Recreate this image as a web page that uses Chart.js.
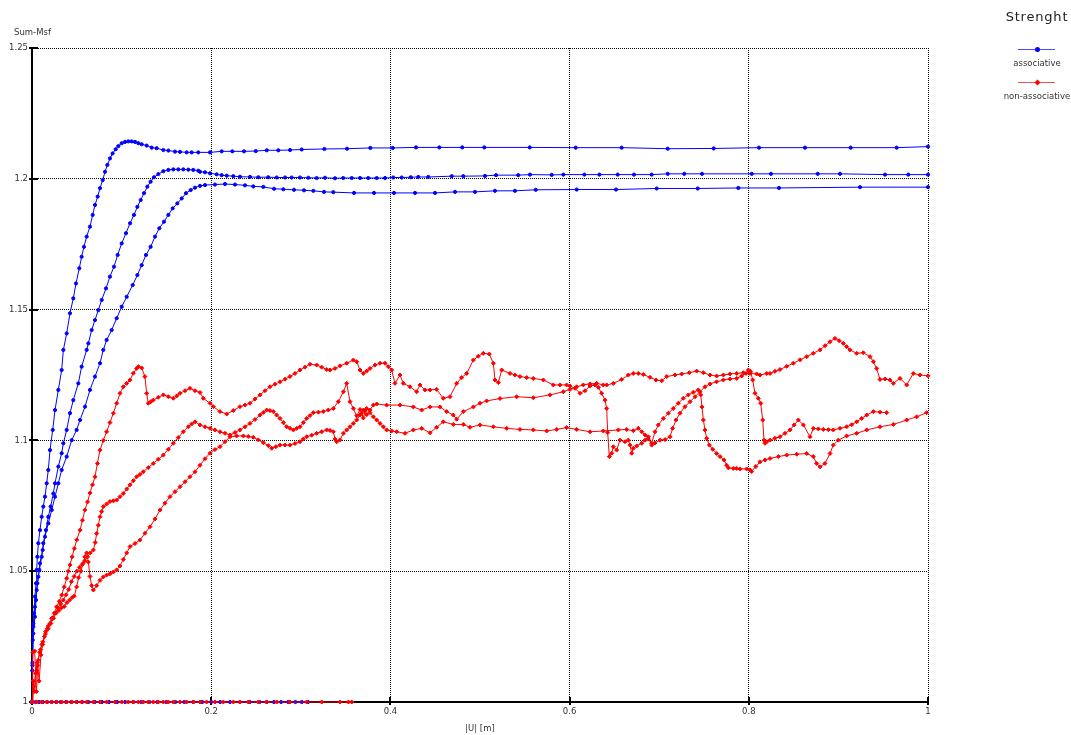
<!DOCTYPE html>
<html>
<head>
<meta charset="utf-8">
<title>Strenght</title>
<script src="https://cdn.jsdelivr.net/npm/chart.js@4.4.1/dist/chart.umd.min.js"></script>
<style>
  body { margin: 0; background: #fff; }
  #wrap { position: relative; width: 1071px; height: 735px; font-family: 'DejaVu Sans', sans-serif; }
  #legend { position: absolute; left: 1000px; top: 0; width: 74px; height: 120px; color: #333; }
  #legend .ttl { position: absolute; left: 0; top: 9px; width: 74px; text-align: center; font-size: 13px; letter-spacing: 0.8px; color: #222; }
  #legend .sample { position: absolute; left: 18px; width: 37px; height: 1px; opacity: 0.7; }
  #legend .mark { position: absolute; width: 5px; height: 5px; left: 34.5px; }
  #legend .lbl { position: absolute; left: -4px; width: 82px; text-align: center; font-size: 8.5px; line-height: 10px; }
</style>
</head>
<body>
<div id="wrap">
  <canvas id="chart" width="1071" height="735"></canvas>
  <div id="legend"><div class="ttl">Strenght</div></div>
</div>
<script>
// axis ticks
const xTickValues = [0, 0.2, 0.4, 0.6, 0.8, 1];
const xTickLabels = ['0', '0.2', '0.4', '0.6', '0.8', '1'];
const yTickValues = [1, 1.05, 1.1, 1.15, 1.2, 1.25];
const yTickLabels = ['1', '1.05', '1.1', '1.15', '1.2', '1.25'];

const seriesNames = ['associative', 'non-associative'];

// associative runs, [|U|, Sum-Msf]
const assocA = [[0,1.0],[0.0003,1.012],[0.0008,1.0237],[0.0015,1.0288],[0.0022,1.0339],[0.0033,1.0403],[0.0045,1.0454],[0.0052,1.0505],[0.006,1.0555],[0.0071,1.0607],[0.0089,1.0657],[0.0108,1.0708],[0.0126,1.0747],[0.0145,1.0785],[0.0164,1.0836],[0.0182,1.0887],[0.0201,1.0963],[0.0231,1.104],[0.0257,1.1116],[0.0294,1.1193],[0.0331,1.1269],[0.035,1.1346],[0.0387,1.1409],[0.0424,1.1486],[0.0461,1.1543],[0.0491,1.16],[0.0528,1.1658],[0.0554,1.1702],[0.058,1.174],[0.061,1.1779],[0.0647,1.1817],[0.0677,1.1862],[0.0703,1.19],[0.0733,1.1932],[0.0759,1.1964],[0.0789,1.1995],[0.0815,1.2027],[0.0841,1.2053],[0.087,1.2078],[0.09,1.2097],[0.0934,1.2113],[0.0964,1.2125],[0.1001,1.2136],[0.1038,1.2141],[0.1075,1.2143],[0.1112,1.2143],[0.115,1.2141],[0.1187,1.2136],[0.1224,1.2132],[0.128,1.2127],[0.1336,1.2119],[0.1391,1.2117],[0.1466,1.211],[0.1522,1.2108],[0.1596,1.2104],[0.1652,1.2103],[0.1726,1.2101],[0.1782,1.2101],[0.1856,1.2101],[0.1987,1.2101],[0.2117,1.2105],[0.2236,1.2105],[0.2366,1.2105],[0.2497,1.2106],[0.262,1.2109],[0.2749,1.2109],[0.288,1.211],[0.301,1.2112],[0.3263,1.2114],[0.3516,1.2115],[0.3776,1.2118],[0.4026,1.2118],[0.4286,1.212],[0.4546,1.212],[0.4802,1.212],[0.5048,1.212],[0.5555,1.212],[0.6068,1.2119],[0.6581,1.2119],[0.7095,1.2115],[0.7608,1.2116],[0.8114,1.2119],[0.8627,1.2119],[0.9137,1.2119],[0.965,1.2119],[1.0,1.2123]];

const assocB = [[0,1.0],[0.0005,1.014],[0.0015,1.0262],[0.0033,1.0326],[0.0045,1.039],[0.006,1.0454],[0.0082,1.0505],[0.0108,1.0555],[0.0126,1.0607],[0.0156,1.0657],[0.0182,1.0708],[0.0208,1.0747],[0.0238,1.0797],[0.0257,1.0836],[0.0294,1.09],[0.0331,1.0951],[0.035,1.0989],[0.0387,1.104],[0.0424,1.1104],[0.0461,1.1154],[0.0517,1.1218],[0.0554,1.1282],[0.061,1.1346],[0.0629,1.1371],[0.0666,1.1422],[0.0703,1.146],[0.074,1.1498],[0.0778,1.1537],[0.0826,1.1581],[0.087,1.1626],[0.0915,1.1664],[0.0956,1.1709],[0.1001,1.1753],[0.1049,1.1792],[0.1094,1.183],[0.1138,1.1862],[0.1176,1.1893],[0.1213,1.1919],[0.125,1.1945],[0.1287,1.197],[0.1324,1.1989],[0.1362,1.2006],[0.141,1.2018],[0.1466,1.2029],[0.1522,1.2034],[0.1577,1.2036],[0.1633,1.2036],[0.1689,1.2036],[0.1745,1.2035],[0.18,1.2034],[0.1856,1.2031],[0.1875,1.2027],[0.1931,1.2025],[0.1987,1.2021],[0.2061,1.2017],[0.2117,1.2014],[0.2173,1.2012],[0.2247,1.201],[0.2321,1.2008],[0.2433,1.2007],[0.2526,1.2006],[0.2637,1.2006],[0.2731,1.2005],[0.2824,1.2005],[0.2898,1.2005],[0.2991,1.2005],[0.3084,1.2004],[0.3177,1.2003],[0.327,1.2004],[0.3382,1.2002],[0.3474,1.2003],[0.3568,1.2003],[0.3661,1.2003],[0.3753,1.2003],[0.3847,1.2003],[0.394,1.2003],[0.4032,1.2005],[0.4126,1.2005],[0.4227,1.2006],[0.4311,1.2007],[0.4423,1.2007],[0.4684,1.201],[0.4814,1.201],[0.5056,1.2011],[0.5179,1.2014],[0.5427,1.2014],[0.5558,1.2016],[0.58,1.2015],[0.593,1.2016],[0.6165,1.2016],[0.6332,1.2016],[0.6537,1.2016],[0.6719,1.2016],[0.6916,1.2016],[0.7095,1.2019],[0.728,1.2019],[0.7478,1.2019],[0.8032,1.2019],[0.8248,1.2019],[0.8769,1.2019],[0.9018,1.2019],[0.952,1.2016],[0.978,1.2016],[1.0,1.2016]];

const assocC = [[0,1.0],[0.0005,1.015],[0.0015,1.03],[0.0033,1.0364],[0.0052,1.0428],[0.0071,1.0479],[0.0089,1.053],[0.0119,1.0581],[0.0145,1.0632],[0.0182,1.0683],[0.022,1.0734],[0.0257,1.0785],[0.0294,1.0836],[0.0331,1.0887],[0.0387,1.0938],[0.0443,1.1001],[0.0498,1.104],[0.0536,1.1078],[0.0592,1.1129],[0.0647,1.1193],[0.0703,1.1244],[0.0759,1.1295],[0.0796,1.1346],[0.0833,1.1384],[0.0889,1.1422],[0.0945,1.1467],[0.1001,1.1511],[0.1057,1.1549],[0.1124,1.1594],[0.1176,1.1632],[0.1224,1.167],[0.1272,1.1709],[0.1324,1.174],[0.1373,1.1779],[0.1421,1.1811],[0.1473,1.1836],[0.1522,1.1862],[0.157,1.1887],[0.1622,1.1906],[0.1671,1.1925],[0.1719,1.1945],[0.1771,1.1957],[0.1819,1.1966],[0.1875,1.1973],[0.1931,1.1976],[0.2042,1.1978],[0.2154,1.198],[0.2266,1.1978],[0.2377,1.1975],[0.247,1.1971],[0.2582,1.1969],[0.2701,1.1962],[0.2805,1.196],[0.2924,1.1958],[0.3036,1.1956],[0.314,1.1954],[0.3259,1.195],[0.3363,1.1949],[0.3594,1.1946],[0.3817,1.1946],[0.404,1.1946],[0.4275,1.1946],[0.4498,1.1946],[0.4721,1.195],[0.4944,1.195],[0.5167,1.1954],[0.539,1.1954],[0.5622,1.1958],[0.6079,1.1959],[0.6518,1.1959],[0.6972,1.1963],[0.743,1.1963],[0.7883,1.1965],[0.8337,1.1965],[0.9241,1.1968],[1.0,1.1968]];

const assocBase = [[0,1],[0.004,1],[0.008,1],[0.012,1],[0.017,1],[0.022,1],[0.027,1],[0.032,1],[0.038,1],[0.044,1],[0.05,1],[0.056,1],[0.063,1],[0.07,1],[0.078,1],[0.086,1],[0.095,1],[0.104,1],[0.113,1],[0.122,1],[0.131,1],[0.14,1],[0.15,1],[0.16,1],[0.17,1],[0.18,1],[0.19,1],[0.2,1],[0.21,1],[0.221,1],[0.232,1],[0.243,1],[0.254,1],[0.262,1],[0.27,1],[0.278,1],[0.286,1],[0.294,1],[0.301,1],[0.308,1]];

// non-associative runs
const nonAssocA = [[0,1.0],[0.0008,1.019],[0.003,1.0195],[0.005,1.004],[0.0065,1.014],[0.008,1.008],[0.01,1.018],[0.012,1.022],[0.0153,1.0269],[0.018,1.029],[0.022,1.032],[0.025,1.034],[0.0275,1.0364],[0.0305,1.0385],[0.0331,1.0409],[0.036,1.044],[0.0387,1.0473],[0.0405,1.05],[0.0424,1.0524],[0.0448,1.0555],[0.0472,1.0587],[0.05,1.062],[0.0536,1.0657],[0.0563,1.0695],[0.059,1.0734],[0.062,1.0765],[0.0647,1.0799],[0.0675,1.083],[0.0703,1.0861],[0.073,1.0912],[0.0759,1.0963],[0.0796,1.1],[0.0833,1.1033],[0.087,1.1068],[0.0908,1.1104],[0.0945,1.1142],[0.0982,1.118],[0.1019,1.1205],[0.1057,1.1218],[0.1094,1.1231],[0.1131,1.1257],[0.1168,1.1275],[0.1187,1.1282],[0.1224,1.1277],[0.126,1.1244],[0.128,1.118],[0.1298,1.1142],[0.1326,1.1148],[0.1354,1.1154],[0.141,1.1165],[0.1466,1.1174],[0.1522,1.1167],[0.1577,1.1161],[0.1615,1.117],[0.1652,1.118],[0.1708,1.119],[0.1763,1.1199],[0.1819,1.119],[0.1875,1.1183],[0.1912,1.1161],[0.1987,1.1142],[0.2024,1.1129],[0.2098,1.111],[0.2173,1.1101],[0.2247,1.1114],[0.2321,1.1129],[0.2377,1.1135],[0.2433,1.1142],[0.2489,1.1158],[0.2545,1.1174],[0.26,1.119],[0.2656,1.1205],[0.2712,1.1215],[0.2768,1.1224],[0.2824,1.1234],[0.2879,1.1244],[0.2935,1.1256],[0.2991,1.1269],[0.3047,1.128],[0.3103,1.1291],[0.3177,1.1288],[0.3233,1.128],[0.3289,1.1271],[0.3326,1.1269],[0.3382,1.1275],[0.3438,1.1285],[0.3512,1.1295],[0.3586,1.1307],[0.3624,1.1301],[0.3661,1.1269],[0.3698,1.1256],[0.3735,1.1265],[0.3772,1.1275],[0.3828,1.1288],[0.3884,1.1295],[0.394,1.1295],[0.3977,1.1282],[0.4014,1.1269],[0.4051,1.1218],[0.4107,1.125],[0.4144,1.1218],[0.4219,1.1205],[0.4293,1.1186],[0.433,1.1212],[0.4386,1.1193],[0.4442,1.1193],[0.4516,1.1195],[0.459,1.1161],[0.4665,1.1167],[0.474,1.1218],[0.4795,1.124],[0.4851,1.1256],[0.4926,1.1307],[0.4981,1.1322],[0.5037,1.1333],[0.5104,1.133],[0.5149,1.1295],[0.5167,1.1231],[0.5205,1.1221],[0.5242,1.1269],[0.5335,1.1256],[0.539,1.125],[0.5446,1.1244],[0.5521,1.124],[0.5595,1.1237],[0.5707,1.1231],[0.5818,1.1212],[0.5893,1.1212],[0.5967,1.1212],[0.6004,1.1208],[0.606,1.1199],[0.6116,1.118],[0.6172,1.119],[0.6228,1.1208],[0.6283,1.1212],[0.6321,1.1203],[0.6358,1.118],[0.6395,1.1154],[0.6414,1.1122],[0.6425,1.103],[0.6443,1.0938],[0.6469,1.0951],[0.6488,1.0976],[0.6525,1.0963],[0.6562,1.1001],[0.6618,1.0995],[0.6655,1.1001],[0.6674,1.0982],[0.6693,1.0951],[0.6711,1.097],[0.6749,1.0979],[0.6805,1.0989],[0.6842,1.1001],[0.6879,1.1014],[0.6916,1.0982],[0.6953,1.099],[0.7009,1.1001],[0.7065,1.1003],[0.7121,1.1014],[0.715,1.1046],[0.7188,1.1078],[0.7232,1.1104],[0.7288,1.1129],[0.7344,1.1148],[0.74,1.1167],[0.7455,1.1186],[0.7511,1.1205],[0.7567,1.1216],[0.7641,1.1224],[0.7716,1.1231],[0.779,1.1235],[0.7865,1.1237],[0.792,1.1246],[0.7969,1.1256],[0.7995,1.1269],[0.8021,1.1263],[0.8043,1.1231],[0.8069,1.118],[0.8106,1.1161],[0.8133,1.1142],[0.8155,1.1078],[0.817,1.1001],[0.8181,1.0989],[0.82,1.0995],[0.8237,1.1001],[0.8292,1.1008],[0.8348,1.1014],[0.8404,1.1027],[0.846,1.104],[0.8506,1.1059],[0.8553,1.1078],[0.8609,1.1059],[0.8683,1.1014],[0.872,1.1046],[0.8776,1.1044],[0.8832,1.1042],[0.8888,1.1041],[0.8943,1.104],[0.9018,1.1046],[0.9092,1.1052],[0.9148,1.106],[0.9204,1.1071],[0.926,1.1084],[0.9316,1.1097],[0.939,1.111],[0.9465,1.1108],[0.9539,1.1106]];

const nonAssocB = [[0,1.0],[0.002,1.006],[0.004,1.011],[0.006,1.015],[0.0085,1.019],[0.011,1.022],[0.014,1.025],[0.017,1.028],[0.02,1.03],[0.023,1.032],[0.026,1.034],[0.029,1.036],[0.032,1.0375],[0.035,1.039],[0.038,1.041],[0.041,1.043],[0.044,1.046],[0.047,1.048],[0.05,1.05],[0.053,1.0515],[0.056,1.0525],[0.059,1.054],[0.062,1.0555],[0.065,1.057],[0.0685,1.0581],[0.0705,1.061],[0.0722,1.0644],[0.074,1.0676],[0.0759,1.0708],[0.0778,1.0728],[0.0796,1.0747],[0.0833,1.0757],[0.087,1.0766],[0.0908,1.0769],[0.0945,1.0772],[0.0982,1.0785],[0.1019,1.0797],[0.1057,1.0814],[0.1094,1.083],[0.1131,1.0846],[0.1168,1.0861],[0.1205,1.087],[0.1242,1.088],[0.1298,1.0896],[0.1354,1.0912],[0.141,1.0928],[0.1466,1.0944],[0.1522,1.0966],[0.1577,1.0989],[0.1633,1.1011],[0.1689,1.1033],[0.1745,1.1052],[0.1782,1.1063],[0.182,1.1071],[0.1875,1.1059],[0.1931,1.1052],[0.1987,1.1046],[0.2042,1.104],[0.2098,1.1033],[0.2154,1.1027],[0.221,1.1021],[0.2266,1.103],[0.2321,1.104],[0.2377,1.1052],[0.2433,1.1065],[0.2489,1.108],[0.2545,1.1097],[0.2582,1.1107],[0.2619,1.1116],[0.2656,1.1114],[0.2693,1.111],[0.273,1.1097],[0.2768,1.1084],[0.2805,1.1068],[0.2842,1.1052],[0.2879,1.1046],[0.2917,1.104],[0.2954,1.1046],[0.2991,1.1052],[0.3028,1.1068],[0.3066,1.1084],[0.3103,1.1095],[0.314,1.1106],[0.3196,1.1108],[0.3251,1.111],[0.3307,1.1116],[0.3363,1.1122],[0.3419,1.1148],[0.3475,1.1186],[0.3512,1.1218],[0.3549,1.1148],[0.3586,1.1122],[0.3624,1.1094],[0.3661,1.1118],[0.3679,1.1105],[0.3698,1.1086],[0.3717,1.1112],[0.3735,1.1098],[0.3772,1.1116],[0.381,1.1135],[0.3847,1.1139],[0.3958,1.1135],[0.4107,1.1135],[0.4256,1.1128],[0.4349,1.1116],[0.4442,1.1128],[0.4554,1.1128],[0.4628,1.111],[0.4702,1.1097],[0.474,1.1081],[0.4814,1.111],[0.4926,1.1128],[0.5,1.1142],[0.5074,1.1151],[0.5223,1.116],[0.541,1.1167],[0.5595,1.1163],[0.5781,1.1174],[0.593,1.1186],[0.6004,1.1195],[0.6079,1.1205],[0.6153,1.1212],[0.6228,1.1216],[0.6302,1.1218],[0.6376,1.1212],[0.6414,1.1212],[0.6488,1.1218],[0.6581,1.1233],[0.6655,1.125],[0.6711,1.1256],[0.6767,1.1256],[0.6823,1.1252],[0.6897,1.1241],[0.6964,1.1231],[0.7028,1.1228],[0.7084,1.1244],[0.7176,1.125],[0.7251,1.1254],[0.7336,1.1259],[0.7418,1.1265],[0.7493,1.1259],[0.7567,1.125],[0.7641,1.1246],[0.7716,1.125],[0.779,1.1254],[0.7865,1.1256],[0.7939,1.1259],[0.8013,1.1256],[0.8088,1.1254],[0.8125,1.125],[0.82,1.1256],[0.8237,1.1256],[0.8292,1.1264],[0.8348,1.1271],[0.8423,1.1283],[0.8497,1.1295],[0.8572,1.1308],[0.8646,1.132],[0.872,1.1333],[0.8795,1.1346],[0.8851,1.1362],[0.8906,1.1377],[0.8962,1.139],[0.9008,1.1381],[0.9055,1.1371],[0.9092,1.1358],[0.9129,1.1346],[0.9204,1.1333],[0.9278,1.1335],[0.9353,1.132],[0.939,1.1301],[0.9427,1.1275],[0.9464,1.1233],[0.952,1.1235],[0.9576,1.1231],[0.9613,1.1218],[0.9688,1.1237],[0.9762,1.1212],[0.9836,1.1256],[0.9911,1.125],[1.0,1.1247]];

const nonAssocC = [[0,1.0],[0.001,1.008],[0.003,1.004],[0.005,1.012],[0.007,1.016],[0.0095,1.02],[0.012,1.023],[0.015,1.026],[0.018,1.028],[0.021,1.03],[0.024,1.032],[0.027,1.034],[0.03,1.035],[0.033,1.036],[0.036,1.0365],[0.039,1.038],[0.042,1.039],[0.045,1.04],[0.0472,1.0405],[0.0498,1.044],[0.052,1.0475],[0.0545,1.05],[0.057,1.053],[0.059,1.0555],[0.061,1.057],[0.0629,1.0535],[0.0647,1.048],[0.0666,1.0445],[0.0685,1.0428],[0.0722,1.0445],[0.0759,1.0465],[0.0796,1.0478],[0.0833,1.0485],[0.087,1.049],[0.0908,1.0497],[0.0945,1.0505],[0.0982,1.052],[0.1019,1.0545],[0.1057,1.057],[0.1094,1.0594],[0.115,1.0606],[0.1205,1.0619],[0.1261,1.0645],[0.1317,1.067],[0.1373,1.07],[0.1429,1.0734],[0.1484,1.076],[0.154,1.0785],[0.1596,1.0804],[0.1652,1.0823],[0.1708,1.0842],[0.1763,1.0861],[0.1819,1.088],[0.1875,1.0905],[0.1931,1.093],[0.1987,1.0951],[0.2042,1.0965],[0.2098,1.0976],[0.2154,1.0995],[0.221,1.1014],[0.2284,1.1017],[0.2359,1.1017],[0.2414,1.1015],[0.247,1.1012],[0.2526,1.1002],[0.2582,1.0991],[0.2638,1.098],[0.2675,1.097],[0.2722,1.0976],[0.2768,1.0982],[0.2824,1.0982],[0.2879,1.0982],[0.2935,1.0988],[0.2991,1.0995],[0.3028,1.1005],[0.3066,1.1014],[0.3121,1.102],[0.3177,1.1027],[0.3233,1.1033],[0.3289,1.104],[0.3326,1.1038],[0.3363,1.1033],[0.3382,1.1005],[0.3401,1.0995],[0.3438,1.1002],[0.3475,1.1027],[0.3512,1.104],[0.3549,1.1052],[0.3586,1.1065],[0.3624,1.1078],[0.3661,1.1097],[0.3698,1.1116],[0.3735,1.1122],[0.3772,1.1106],[0.381,1.109],[0.3847,1.1078],[0.3884,1.1065],[0.3921,1.1052],[0.3958,1.104],[0.4014,1.1036],[0.407,1.1033],[0.4163,1.1027],[0.4256,1.104],[0.4349,1.1046],[0.4442,1.1029],[0.4516,1.105],[0.459,1.1071],[0.4702,1.1061],[0.4814,1.1061],[0.4888,1.105],[0.5,1.1059],[0.5149,1.1052],[0.5298,1.1046],[0.5446,1.1042],[0.5595,1.104],[0.5744,1.1036],[0.5856,1.1042],[0.5967,1.1049],[0.6079,1.1042],[0.6228,1.1033],[0.6376,1.1036],[0.6544,1.104],[0.6637,1.1042],[0.6711,1.1037],[0.6767,1.1046],[0.6805,1.1033],[0.6842,1.1021],[0.6879,1.1005],[0.6916,1.0989],[0.6953,1.1033],[0.699,1.1059],[0.7046,1.1084],[0.7102,1.1104],[0.7157,1.1122],[0.7213,1.1142],[0.7269,1.1161],[0.7325,1.1174],[0.7381,1.1184],[0.7436,1.1193],[0.7463,1.1174],[0.7478,1.1128],[0.7493,1.1078],[0.7511,1.104],[0.753,1.1008],[0.756,1.0982],[0.7597,1.0966],[0.7641,1.095],[0.7679,1.0938],[0.7723,1.0925],[0.7753,1.0905],[0.7772,1.0895],[0.7827,1.0893],[0.7865,1.0893],[0.7902,1.0891],[0.7976,1.0891],[0.8013,1.0887],[0.8032,1.0881],[0.8078,1.09],[0.8125,1.0918],[0.8181,1.0925],[0.8237,1.0931],[0.833,1.0938],[0.8423,1.0944],[0.8535,1.0947],[0.8646,1.095],[0.872,1.0938],[0.8757,1.0912],[0.8795,1.0899],[0.885,1.0912],[0.8906,1.095],[0.8943,1.0982],[0.8999,1.1001],[0.9092,1.1017],[0.9204,1.1027],[0.9316,1.104],[0.9464,1.1052],[0.9613,1.1061],[0.9762,1.1078],[0.9874,1.109],[0.9985,1.1106]];

const nonAssocBase = [[0,1],[0.0052,1],[0.0108,1],[0.0164,1],[0.022,1],[0.0275,1],[0.0331,1],[0.0387,1],[0.0443,1],[0.0498,1],[0.0554,1],[0.061,1],[0.0685,1],[0.0759,1],[0.0833,1],[0.0926,1],[0.1001,1],[0.1075,1],[0.1131,1],[0.1187,1],[0.1243,1],[0.1298,1],[0.1354,1],[0.141,1],[0.1466,1],[0.1522,1],[0.1577,1],[0.1652,1],[0.1726,1],[0.1801,1],[0.1875,1],[0.1949,1],[0.2042,1],[0.2135,1],[0.2247,1],[0.2321,1],[0.2414,1],[0.2526,1],[0.2619,1],[0.2731,1],[0.2879,1],[0.3065,1],[0.3233,1],[0.3438,1],[0.3531,1],[0.3568,1]];

const BLUE = '#0000ff';
const RED = '#ff0000';
const seriesColors = [BLUE, RED];

function toPoints(list) {
    return list.map(function(p) { return {x: p[0], y: p[1]}; });
}

function runDataset(list, color, isAssoc) {
    return {
        data: toPoints(list),
        borderColor: color,
        backgroundColor: color,
        borderWidth: 1,
        pointStyle: isAssoc ? 'circle' : 'rectRot',
        pointRadius: isAssoc ? 1.6 : 2,
        pointBorderWidth: 1,
        pointBorderColor: color,
        pointBackgroundColor: color,
        clip: false,
        order: isAssoc ? 1 : 0
    };
}

// Axis lines, crossing tick marks and axis titles:
const axisDecor = {
    id: 'axisDecor',
    beforeDatasetsDraw(chart) {
        const {ctx, chartArea: a, scales: {x, y}} = chart;
        ctx.save();
        ctx.strokeStyle = '#000';
        ctx.lineWidth = 2;
        ctx.beginPath();
        ctx.moveTo(a.left, a.top);
        ctx.lineTo(a.left, a.bottom);
        ctx.lineTo(a.right, a.bottom);
        ctx.stroke();
        ctx.beginPath();
        for (const v of xTickValues) {
            const px = Math.round(x.getPixelForValue(v));
            ctx.moveTo(px, a.bottom - 5);
            ctx.lineTo(px, a.bottom + 3);
        }
        for (const v of yTickValues) {
            const py = Math.round(y.getPixelForValue(v));
            ctx.moveTo(a.left - 3, py);
            ctx.lineTo(a.left + 6, py);
        }
        ctx.stroke();
        ctx.restore();
    },
    afterDraw(chart) {
        const {ctx, chartArea: a} = chart;
        ctx.save();
        ctx.fillStyle = '#333';
        ctx.font = "8.5px 'DejaVu Sans', sans-serif";
        ctx.textBaseline = 'middle';
        ctx.textAlign = 'left';
        ctx.fillText('Sum-Msf', 14, 33);
        ctx.textAlign = 'center';
        ctx.fillText('|U| [m]', (a.left + a.right) / 2, 729);
        ctx.restore();
    }
};

Chart.defaults.font.family = "'DejaVu Sans', sans-serif";
Chart.defaults.font.size = 8.5;
Chart.defaults.color = '#333';

const datasets = [
    runDataset(nonAssocA, RED, false),
    runDataset(nonAssocB, RED, false),
    runDataset(nonAssocC, RED, false),
    runDataset(nonAssocBase, RED, false),
    runDataset(assocA, BLUE, true),
    runDataset(assocB, BLUE, true),
    runDataset(assocC, BLUE, true),
    runDataset(assocBase, BLUE, true)
];

const config = {
    type: 'line',
    data: {datasets: datasets},
    options: {
        responsive: false,
        animation: false,
        events: [],
        layout: {padding: {left: 0, top: 48, right: 143, bottom: 0}},
        plugins: {
            legend: {display: false},
            tooltip: {enabled: false}
        },
        scales: {
            x: {
                type: 'linear',
                min: 0,
                max: 1,
                afterBuildTicks: function(scale) { scale.ticks = xTickValues.map(function(v) { return {value: v}; }); },
                afterFit: function(scale) { scale.height = 33; },
                ticks: {
                    padding: 5,
                    maxRotation: 0,
                    autoSkip: false,
                    callback: function(v, i) { return xTickLabels[i]; }
                },
                grid: {color: '#000', lineWidth: 1, drawTicks: false},
                border: {display: false, dash: [1, 1]}
            },
            y: {
                type: 'linear',
                min: 1,
                max: 1.25,
                afterBuildTicks: function(scale) { scale.ticks = yTickValues.map(function(v) { return {value: v}; }); },
                afterFit: function(scale) { scale.width = 32; },
                ticks: {
                    padding: 4,
                    autoSkip: false,
                    callback: function(v, i) { return yTickLabels[i]; }
                },
                grid: {color: '#000', lineWidth: 1, drawTicks: false},
                border: {display: false, dash: [1, 1]}
            }
        }
    },
    plugins: [axisDecor]
};

const myChart = new Chart(document.getElementById('chart'), config);

// Legend (title and one entry per run type):
const legendBox = document.getElementById('legend');
seriesNames.forEach(function(name, i) {
    const lineTop = 49 + i * 33;
    const line = document.createElement('div');
    line.className = 'sample';
    line.style.top = lineTop + 'px';
    line.style.background = seriesColors[i];
    legendBox.appendChild(line);

    const mark = document.createElement('div');
    mark.className = 'mark';
    mark.style.top = (lineTop - 2) + 'px';
    mark.style.background = seriesColors[i];
    if (i === 0) mark.style.borderRadius = '50%';
    else mark.style.transform = 'rotate(45deg) scale(0.85)';
    legendBox.appendChild(mark);

    const label = document.createElement('div');
    label.className = 'lbl';
    label.style.top = (lineTop + 8.5) + 'px';
    label.textContent = name;
    legendBox.appendChild(label);
});
</script>
</body>
</html>
